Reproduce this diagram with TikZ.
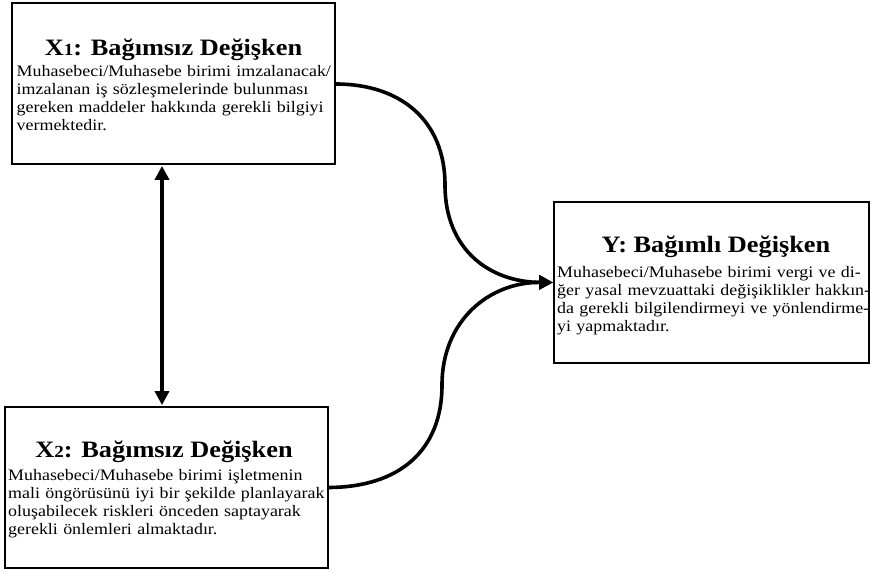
\documentclass[tikz,border=0pt]{standalone}
\usepackage{fontspec}
\setmainfont{Liberation Serif}[FakeStretch=1.12]
\usetikzlibrary{arrows.meta}
\newcommand{\jline}[1]{\makebox[\hsize][s]{#1}\\}
\tikzset{
  box/.style={draw, line width=1.8pt, rectangle, inner sep=0pt},
  ttl/.style={anchor=base, font=\fontsize{23.5}{25}\selectfont\bfseries, inner sep=0pt},
  body/.style={anchor=base west, inner sep=0pt, align=left, font=\fontsize{16}{18.3}\selectfont},
  conn/.style={line width=3.6pt, -{Triangle[length=14pt,width=14pt]}},
  dconn/.style={line width=3.6pt, {Triangle[length=14pt,width=14pt]}-{Triangle[length=14pt,width=14pt]}},
}
\newcommand{\smallone}{{\fontsize{17}{17}\selectfont 1}}
\newcommand{\smalltwo}{{\fontsize{17}{17}\selectfont 2}}
\begin{document}
\begin{tikzpicture}[x=1pt,y=-1pt]
\useasboundingbox (0,0) rectangle (871,573);
% boxes
\node[box, minimum width=323pt, minimum height=161pt] (x1) at (173.5,83.5) {};
\node[box, minimum width=323pt, minimum height=161pt] (x2) at (166.5,487.5) {};
\node[box, minimum width=315pt, minimum height=161pt] (yb) at (711.5,282.5) {};
% titles
\node[ttl] (t1) at (173.5,55) {X\smallone: Bağımsız Değişken};
\node[ttl] (t2) at (164,457) {X\smalltwo: Bağımsız Değişken};
\node[ttl] (t3) at (716,252) {Y: Bağımlı Değişken};
% bodies
\node[body, text width=316pt] (b1) at (16.5,76) {%
\jline{Muhasebeci/Muhasebe birimi imzalanacak/}
\jline{imzalanan iş sözleşmelerinde bulunması}
\jline{gereken maddeler hakkında gerekli bilgiyi}
vermektedir.};
\node[body, text width=317pt] (b2) at (8,480) {%
\jline{Muhasebeci/Muhasebe birimi işletmenin}
\jline{mali öngörüsünü iyi bir şekilde planlayarak}
\jline{oluşabilecek riskleri önceden saptayarak}
gerekli önlemleri almaktadır.};
\node[body, text width=308pt] (b3) at (557,277) {%
\jline{Muhasebeci/Muhasebe birimi vergi ve di-}
\jline{ğer yasal mevzuattaki değişiklikler hakkın-}
\jline{da gerekli bilgilendirmeyi ve yönlendirme-}
yi yapmaktadır.};
% connectors
\coordinate (va) at (162,0);
\draw[dconn, shorten <=1pt, shorten >=1pt] (x1.south -| va) -- (x2.north -| va);
\draw[conn] (x1.east |- 0,84) .. controls (400,84) and (445,120) .. (445,185)
  .. controls (445,250) and (490,282) .. (yb.west);
\draw[conn] (x2.east) .. controls (400,487) and (442,450) .. (442,385)
  .. controls (442,320) and (490,282) .. (yb.west);
\end{tikzpicture}
\end{document}
